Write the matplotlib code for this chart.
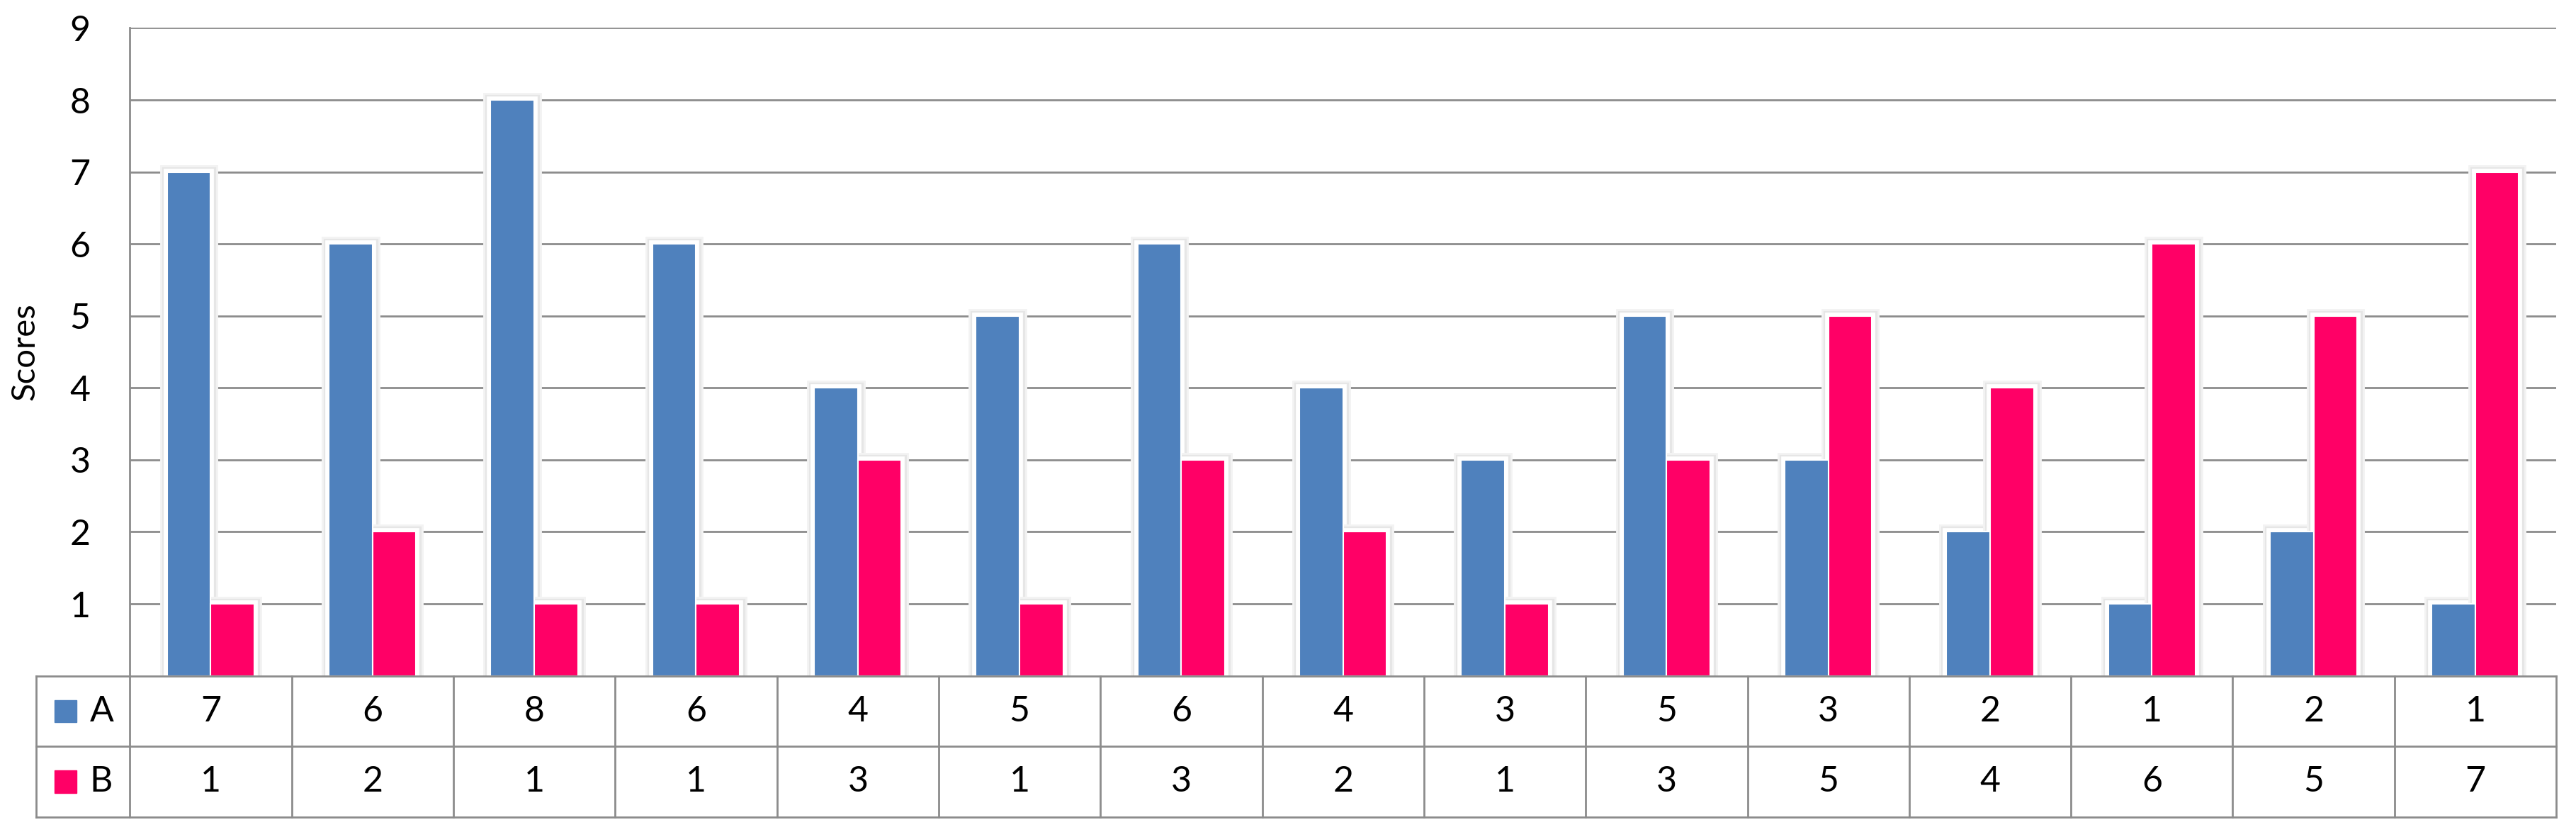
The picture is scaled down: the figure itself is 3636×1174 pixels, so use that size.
import matplotlib
matplotlib.use("Agg")
import matplotlib.pyplot as plt
import matplotlib.patheffects as pe
from matplotlib.patches import Rectangle
import numpy as np

plt.rcParams['font.family'] = ['Lato', 'DejaVu Sans']

# Data
series_names = ['A', 'B']
scores_a = [7, 6, 8, 6, 4, 5, 6, 4, 3, 5, 3, 2, 1, 2, 1]
scores_b = [1, 2, 1, 1, 3, 1, 3, 2, 1, 3, 5, 4, 6, 5, 7]
y_ticks = [1, 2, 3, 4, 5, 6, 7, 8, 9]

color_a = '#4F81BD'
color_b = '#FF0066'
grid_color = '#8C8C8C'

n = len(scores_a)
x = np.arange(n)
bar_w = 0.27

fig = plt.figure(figsize=(36.36, 11.74), dpi=100)

# main bar axes
ax = fig.add_axes([0.0504, 0.1877, 0.9419, 0.7787])

# soft halo behind every bar first, so it never covers a neighbour
halo = [pe.Stroke(linewidth=15, foreground='#f3f3f3'),
        pe.Stroke(linewidth=11, foreground='#e6e6e6'),
        pe.Stroke(linewidth=7, foreground='white'),
        pe.Normal()]
for offs, vals in [(-bar_w / 2, scores_a), (bar_w / 2, scores_b)]:
    bg = ax.bar(x + offs, vals, bar_w, color='white', edgecolor='white', linewidth=0, zorder=2)
    for b in bg:
        b.set_path_effects(halo)

ax.bar(x - bar_w / 2, scores_a, bar_w, color=color_a, edgecolor='white', linewidth=1.5, zorder=3)
ax.bar(x + bar_w / 2, scores_b, bar_w, color=color_b, edgecolor='white', linewidth=1.5, zorder=3)

ax.set_xlim(-0.5, n - 0.5)
ax.set_ylim(0, 9)
ax.set_yticks(y_ticks)
ax.set_yticklabels([str(t) for t in y_ticks], fontsize=36)
ax.tick_params(axis='y', length=0, pad=40)
ax.set_xticks([])
ax.yaxis.grid(True, color=grid_color, linewidth=2, zorder=0)
ax.set_axisbelow(True)
for side in ['top', 'right', 'bottom']:
    ax.spines[side].set_visible(False)
ax.spines['left'].set_color(grid_color)
ax.spines['left'].set_linewidth(2)
ax.set_ylabel('Scores', fontsize=34)
ax.yaxis.set_label_coords(-0.037, 0.5)

# data table under the chart
head_w = 0.58
tax = fig.add_axes([0.01403, 0.0178, 0.9783, 0.1699])
tax.set_xlim(-0.5 - head_w, n - 0.5)
tax.set_ylim(0, 2)
tax.axis('off')

lw = 2
for xv in [-0.5 - head_w] + list(np.arange(n + 1) - 0.5):
    tax.plot([xv, xv], [0, 2], color=grid_color, linewidth=lw, solid_capstyle='projecting', clip_on=False)
for yv in [0, 1, 2]:
    tax.plot([-0.5 - head_w, n - 0.5], [yv, yv], color=grid_color, linewidth=lw, solid_capstyle='projecting', clip_on=False)

rows = [(series_names[0], scores_a, color_a), (series_names[1], scores_b, color_b)]
for r, (name, vals, col) in enumerate(rows):
    yc = 2 - r - 0.5
    tax.add_patch(Rectangle((-0.5 - head_w + 0.115, yc - 0.16), 0.135, 0.32, color=col))
    tax.text(-0.5 - head_w + 0.33, yc, name, fontsize=36, va='center', ha='left')
    for i, v in enumerate(vals):
        tax.text(i, yc, str(v), fontsize=36, va='center', ha='center')

fig.savefig('out.png', dpi=100)
